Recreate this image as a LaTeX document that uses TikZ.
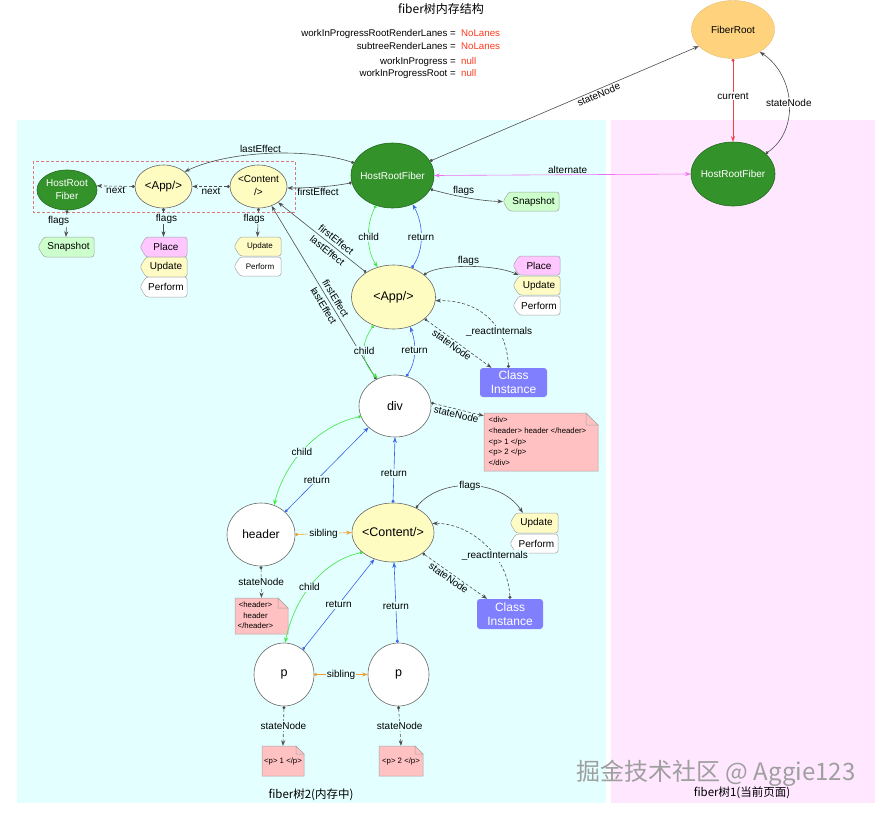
\documentclass[tikz,border=0pt]{standalone}
\usepackage{fontspec}
\setmainfont{Liberation Sans}
\newfontfamily\cjk{Noto Sans CJK SC}
\usetikzlibrary{arrows.meta,calc,shapes.geometric}
\definecolor{cyanbg}{HTML}{E4FFFF}
\definecolor{pinkbg}{HTML}{FFE8FF}
\definecolor{fgreen}{HTML}{33922A}
\definecolor{fgreenb}{HTML}{246B1E}
\definecolor{nyellow}{HTML}{FFFCC2}
\definecolor{froot}{HTML}{FFD37D}
\definecolor{tagpink}{HTML}{FFC6FF}
\definecolor{tagyel}{HTML}{FFFBC4}
\definecolor{taggreen}{HTML}{CCFFCC}
\definecolor{ciblue}{HTML}{8080FF}
\definecolor{notepink}{HTML}{FFC1C1}
\definecolor{linegray}{HTML}{4D4D4D}
\definecolor{bordergray}{HTML}{666666}
\definecolor{childgreen}{HTML}{3CE83C}
\definecolor{retblue}{HTML}{3A62E8}
\definecolor{sibor}{HTML}{F0A030}
\definecolor{altmag}{HTML}{F070F0}
\definecolor{curred}{HTML}{F04040}
\definecolor{boxred}{HTML}{E07878}
\definecolor{valred}{HTML}{FF3B1F}
\newcommand\zbox[1]{\makebox[0pt]{#1}}
\newcommand\tagfont{\fontsize{10}{12}\selectfont}
\newcommand\smalltagfont{\fontsize{8}{10}\selectfont}
\newcommand\notefont{\fontsize{7.8}{10.7}\selectfont}
\newcommand\tagbox[8]{%
  \path[tagshape,fill=#6] ({#2+6},#3) -- (#4,#3) -- (#4,#5) -- ({#2+6},#5) -- (#2,{(#3+#5)/2}) -- cycle;
  \node[inner sep=0,minimum width={(#4-#2)*1pt},minimum height={(#5-#3)*1pt},font=#7] (#1) at ({(#2+#4)/2},{(#3+#5)/2}) {\hspace*{5pt}#8};
}
\newcommand\notebox[8]{%
  \path[notestyle] (#2,#3) -- ({#4-#6},#3) -- (#4,{#3+#6}) -- (#4,#5) -- (#2,#5) -- cycle;
  \path[notestyle] ({#4-#6},#3) -- ({#4-#6},{#3+#6}) -- (#4,{#3+#6}) -- cycle;
  \node[inner sep=0,minimum width={(#4-#2)*1pt},minimum height={(#5-#3)*1pt},font=\notefont] (#1) at ({(#2+#4)/2},{(#3+#5)/2}) {\zbox{\hspace*{#7}#8}};
}
\begin{document}
\begin{tikzpicture}[x=1pt,y=-1pt,
  lbl/.style={font=\fontsize{10}{12}\selectfont,inner sep=1pt},
  lblc/.style={lbl,fill=cyanbg},
  lblw/.style={lbl,fill=white},
  conn/.style={draw=linegray,line width=0.6pt,{Circle[length=3pt]}-{Stealth[length=5.5pt,width=4pt]}},
  dconn/.style={conn,dash pattern=on 3pt off 2pt},
  childc/.style={conn,draw=childgreen},
  retc/.style={conn,draw=retblue},
  sibc/.style={conn,draw=sibor},
  tagshape/.style={draw=gray!70,line width=0.5pt,rounded corners=2.5pt},
  notestyle/.style={draw=gray!70,fill=notepink,line width=0.5pt},
  greennode/.style={ellipse,draw=fgreenb,fill=fgreen,text=white,inner sep=0,line width=0.6pt,font=\fontsize{10}{12}\selectfont},
  ynode/.style={ellipse,draw=bordergray,fill=nyellow,inner sep=0,line width=0.6pt},
  wnode/.style={ellipse,draw=bordergray,fill=white,inner sep=0,line width=0.6pt},
  bigfont/.style={font=\fontsize{12.5}{14}\selectfont},
  cibox/.style={rounded corners=3pt,fill=ciblue,text=white,inner sep=0,font=\fontsize{12}{14}\selectfont,align=center},
  vfont/.style={font=\fontsize{9.7}{11}\selectfont,inner sep=0},
]
\useasboundingbox (0,0) rectangle (885,812);
\fill[white] (0,0) rectangle (885,812);
\fill[cyanbg] (17,120) rectangle (606,803);
\fill[pinkbg] (611,120) rectangle (875,803);

% texts
\node[font={\cjk\fontsize{12}{14}\selectfont}] (title) at (441,9) {fiber树内存结构};
\node[vfont,anchor=base east] (v1) at (456,36.3) {workInProgressRootRenderLanes =};
\node[vfont,anchor=base west,text=valred] (v1v) at (461,36.3) {NoLanes};
\node[vfont,anchor=base east] (v2) at (456,49.3) {subtreeRenderLanes =};
\node[vfont,anchor=base west,text=valred] (v2v) at (461,49.3) {NoLanes};
\node[vfont,anchor=base east] (v3) at (456,64.3) {workInProgress =};
\node[vfont,anchor=base west,text=valred] (v3v) at (461,64.3) {null};
\node[vfont,anchor=base east] (v4) at (456,76.3) {workInProgressRoot =};
\node[vfont,anchor=base west,text=valred] (v4v) at (461,76.3) {null};
\node[font={\cjk\fontsize{11.5}{13}\selectfont}] (t2) at (311,795) {fiber树2(内存中)};
\node[font={\cjk\fontsize{11.5}{13}\selectfont}] (t1) at (742,793) {fiber树1(当前页面)};

% dashed box
\draw[boxred,dash pattern=on 3pt off 2pt,line width=0.6pt] (33,161) rectangle (295,212);

% nodes
\node[ellipse,fill=froot,draw=froot!90!black,line width=0.4pt,minimum width=83pt,minimum height=58pt,inner sep=0,font=\fontsize{10}{12}\selectfont] (fr) at (733,29.5) {\zbox{FiberRoot}};
\node[greennode,minimum width=84pt,minimum height=64pt] (hrf2) at (733,174) {\zbox{HostRootFiber}};
\node[greennode,minimum width=83pt,minimum height=65pt] (hrf) at (392.5,175.5) {\zbox{HostRootFiber}};
\node[greennode,minimum width=60pt,minimum height=40pt,font=\fontsize{10}{13}\selectfont] (shr) at (67,190) {\zbox{\begin{tabular}{@{}c@{}}HostRoot\\Fiber\end{tabular}}};
\node[ynode,minimum width=57pt,minimum height=43pt,font=\fontsize{11.5}{13}\selectfont] (sapp) at (163.5,186.5) {\zbox{<App/>}};
\node[ynode,minimum width=57pt,minimum height=43pt,font=\fontsize{10}{13}\selectfont] (scont) at (258.5,186.5) {\zbox{\begin{tabular}{@{}c@{}}<Content\\/>\end{tabular}}};
\node[ynode,bigfont,minimum width=84pt,minimum height=64pt] (app) at (393.5,297) {\zbox{<App/>}};
\node[wnode,bigfont,minimum width=72pt,minimum height=62pt] (dv) at (395,406) {\zbox{div}};
\node[wnode,font=\fontsize{12}{14}\selectfont,minimum width=68pt,minimum height=63pt] (hd) at (261,534.5) {\zbox{header}};
\node[ynode,bigfont,minimum width=82pt,minimum height=59pt] (ct) at (393,532.5) {\zbox{<Content/>}};
\node[wnode,bigfont,minimum width=60pt,minimum height=63pt] (p1) at (284,674.5) {\zbox{p}};
\node[wnode,bigfont,minimum width=61pt,minimum height=63pt] (p2) at (398.5,674.5) {\zbox{p}};
\node[cibox,minimum width=67pt,minimum height=29pt] (ci1) at (513.5,382.5) {Class\\Instance};
\node[cibox,minimum width=66pt,minimum height=30pt] (ci2) at (510,614) {Class\\Instance};

% tags
\tagbox{snap1}{38}{237}{94}{257}{taggreen}{\tagfont}{Snapshot}
\tagbox{place1}{140}{237}{187}{257}{tagpink}{\tagfont}{Place}
\tagbox{upd1}{140}{257}{187}{277}{tagyel}{\tagfont}{Update}
\tagbox{perf1}{140}{277}{187}{297}{white}{\tagfont}{Perform}
\tagbox{upd0}{234}{237}{281}{256}{tagyel}{\smalltagfont}{Update}
\tagbox{perf0}{234}{257}{281}{276}{white}{\smalltagfont}{Perform}
\tagbox{snap2}{503}{192}{559}{211}{taggreen}{\tagfont}{Snapshot}
\tagbox{place2}{513}{256}{560}{275}{tagpink}{\tagfont}{Place}
\tagbox{upd2}{513}{276}{560}{295}{tagyel}{\tagfont}{Update}
\tagbox{perf2}{513}{296}{560}{315}{white}{\tagfont}{Perform}
\tagbox{upd3}{510}{513}{558}{533}{tagyel}{\tagfont}{Update}
\tagbox{perf3}{510}{534}{558}{553}{white}{\tagfont}{Perform}

% notes
\notebox{dn}{484}{413}{598}{471}{12}{-7pt}{\begin{tabular}{@{}l@{}}<div>\\<header> header </header>\\<p> 1 </p>\\<p> 2 </p>\\</div>\end{tabular}}
\notebox{hn}{235}{598}{288}{634}{10}{-12pt}{\begin{tabular}{@{}c@{}}<header>\\header\\</header>\end{tabular}}
\notebox{pn1}{262}{746}{304}{776}{8}{0pt}{<p> 1 </p>}
\notebox{pn2}{379}{746}{423}{776}{8}{0pt}{<p> 2 </p>}

% watermark
\node[font={\cjk\fontsize{24}{28}\selectfont},text=gray!75] (wm) at (716,773) {掘金技术社区 @ Aggie123};

% connectors: roots
\draw[conn] (hrf.21) -- (fr.206) node[lbl,sloped,below,pos=0.62] {stateNode};
\draw[conn,draw=curred] (fr.south) -- (hrf2.north) node[lblw,pos=0.45] {current};
\draw[conn] (hrf2.32) .. controls (800,130) and (795,75) .. (fr.320) node[lblw,pos=0.5] {stateNode};
\draw[draw=altmag,line width=0.6pt,{Stealth[length=5.5pt,width=4pt]}-{Stealth[length=5.5pt,width=4pt]}] (hrf.east) -- (hrf2.west) node[lbl,above,pos=0.52] {alternate};
\draw[conn] (hrf.340) .. controls (455,196) and (480,201) .. (snap2.west) node[lbl,above,pos=0.45] {flags};
\draw[conn] (hrf.162) .. controls (310,148) and (230,150) .. (sapp.35) node[lbl,above,pos=0.55] {lastEffect};
\draw[conn] (hrf.190) .. controls (330,187) and (305,188) .. (scont.357) node[lbl,below,pos=0.5] {firstEffect};
\draw[conn] (app.138) -- (scont.321) node[lbl,sloped,above=2pt,pos=0.39] {firstEffect} node[lbl,sloped,below=2pt,pos=0.39] {lastEffect};
\draw[conn] (dv.125) -- (scont.304) node[lbl,sloped,above=2pt,pos=0.445] {firstEffect} node[lbl,sloped,below=2pt,pos=0.445] {lastEffect};

% small row
\draw[dconn] (sapp.west) -- (shr.8) node[lbl,below,pos=0.5] {next};
\draw[dconn] (scont.west) -- (sapp.east) node[lbl,below,pos=0.5] {next};
\draw[conn] (shr.south) -- (snap1.north) node[lblc,pos=0.4,xshift=-8pt] {flags};
\draw[conn] (sapp.south) -- (place1.north) node[lblc,pos=0.36,xshift=3pt] {flags};
\draw[conn] (scont.south) -- (upd0.north) node[lblc,pos=0.36,xshift=-4pt] {flags};

% tree
\draw[childc] (hrf.241) .. controls (366,225) and (366,250) .. (app.118) node[lblc,pos=0.5] {child};
\draw[retc] (app.58) .. controls (424,250) and (424,225) .. (hrf.305) node[lblc,pos=0.5] {return};
\draw[childc] (app.235) .. controls (360,345) and (361,362) .. (dv.122) node[lblc,pos=0.45] {child};
\draw[retc] (dv.69) .. controls (416,362) and (417,345) .. (app.299) node[lblc,pos=0.55] {return};
\draw[conn] (app.36) .. controls (440,264) and (495,264) .. ([xshift=6pt]place2.south west) node[lbl,above,pos=0.5,inner sep=0.5pt] {flags};
\draw[dconn] (app.325) -- ([xshift=-22pt]ci1.north) node[lbl,sloped,below,pos=0.45] {stateNode};
\draw[dconn] ([xshift=-5pt]ci1.north) .. controls (506,320) and (475,300) .. (app.355) node[lblc,pos=0.3] {\_reactInternals};
\draw[dconn] (dv.5) -- ([yshift=-3pt]dn.north west) node[lbl,sloped,below,pos=0.5] {stateNode};
\draw[childc] (dv.197) .. controls (320,425) and (285,460) .. (hd.66) node[lblc,pos=0.55] {child};
\draw[retc] (hd.43) -- (dv.219) node[lblc,pos=0.38] {return};
\draw[retc] (ct.north) -- (dv.south) node[lblc,pos=0.45] {return};
\draw[sibc] (hd.east) -- (ct.west) node[lblc,pos=0.5] {sibling};
\draw[conn] (ct.47) .. controls (440,478) and (500,478) .. ([xshift=13pt]upd3.north west) node[lblc,pos=0.5] {flags};
\draw[dconn] (ct.325) -- ([xshift=-23pt]ci2.north) node[lbl,sloped,below,pos=0.45] {stateNode};
\draw[dconn] (ci2.north) .. controls (508,555) and (470,523) .. (ct.13) node[lblc,pos=0.37] {\_reactInternals};
\draw[dconn] (hd.south) -- (hn.north) node[lblc,pos=0.5] {stateNode};
\draw[childc] (ct.213) .. controls (325,560) and (295,595) .. (p1.88) node[lblc,pos=0.55] {child};
\draw[retc] (p1.53) -- (ct.235) node[lblc,pos=0.5] {return};
\draw[retc] (p2.92) -- (ct.272) node[lblc,pos=0.45] {return};
\draw[sibc] (p1.east) -- (p2.west) node[lblc,pos=0.5] {sibling};
\draw[dconn] (p1.south) -- (pn1.north) node[lblc,pos=0.5] {stateNode};
\draw[dconn] (p2.south) -- (pn2.north) node[lblc,pos=0.5] {stateNode};
\end{tikzpicture}
\end{document}
